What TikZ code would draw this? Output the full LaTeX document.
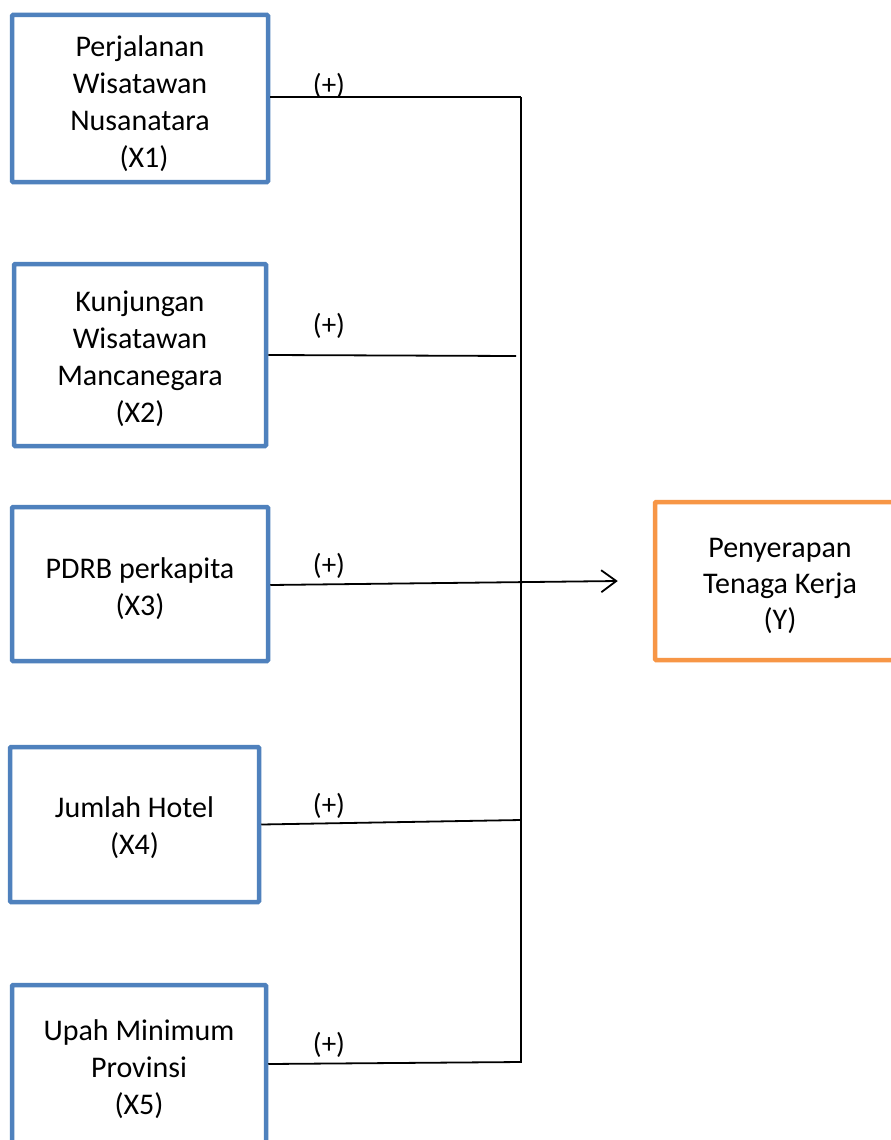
\documentclass[tikz,border=0pt]{standalone}
\usepackage{fontspec}
\setmainfont{Carlito}
\usetikzlibrary{arrows.meta}
\definecolor{boxblue}{HTML}{4F81BD}
\definecolor{boxorange}{HTML}{F79646}
\begin{document}
\begin{tikzpicture}[x=1pt,y=-1pt,
  varbox/.style={draw=boxblue,line width=4.5pt,rounded corners=1pt,inner sep=0pt},
  ybox/.style={draw=boxorange,line width=4.5pt,rounded corners=1pt,inner sep=0pt},
  boxtext/.style={align=center,font=\fontsize{30}{37}\selectfont,inner sep=0pt},
  conn/.style={draw=black,line width=1.8pt},
  sign/.style={font=\fontsize{29}{34}\selectfont,inner sep=0pt}]
\useasboundingbox (0,0) rectangle (891,1140);
\clip (0,0) rectangle (891,1140);
\fill[white] (0,0) rectangle (891,1140);
% boxes
\node[varbox,minimum width=256pt,minimum height=167pt] (x1) at (140,98.5) {};
\node[varbox,minimum width=252pt,minimum height=182pt] (x2) at (140,355) {};
\node[varbox,minimum width=256pt,minimum height=154pt] (x3) at (140,584) {};
\node[varbox,minimum width=249pt,minimum height=155pt] (x4) at (134.5,824.5) {};
\node[varbox,minimum width=254pt,minimum height=166pt] (x5) at (139,1068) {};
\node[ybox,minimum width=250pt,minimum height=158pt] (yy) at (780,581) {};
% texts
\node[boxtext] (t1) at ([yshift=-5pt]x1.center) {Perjalanan\\Wisatawan\\Nusanatara\\\hspace*{8pt}(X1)};
\node[boxtext] (t2) at ([yshift=-4pt]x2.center) {Kunjungan\\Wisatawan\\Mancanegara\\(X2)};
\node[boxtext] (t3) at ([yshift=-5pt]x3.center) {PDRB perkapita\\(X3)};
\node[boxtext] (t4) at ([yshift=-3.5pt]x4.center) {Jumlah Hotel\\(X4)};
\node[boxtext] (t5) at ([yshift=-1pt]x5.center) {Upah Minimum\\Provinsi\\(X5)};
\node[boxtext,font=\fontsize{30}{36}\selectfont] (ty) at ([yshift=-5pt]yy.center) {Penyerapan\\Tenaga Kerja\\(Y)};
% bus
\coordinate (bt) at (521,97);
\coordinate (bb) at (521,1063);
\coordinate (e2) at (516,356);
\coordinate (e4) at (521,820);
\coordinate (e5) at (521,1062);
\coordinate (tip) at ([xshift=-35pt]yy.west);
\draw[conn] (bt) -- (bb);
\draw[conn] (x1.east |- bt) -- (bt);
\draw[conn] (x2.east) -- (e2);
\draw[conn,-{Straight Barb[length=15pt,width=22pt,line width=1.8pt]}] ([yshift=-1pt]x3.east) -- (tip);
\draw[conn] (x4.east) -- (e4);
\draw[conn] ([yshift=4pt]x5.east) -- (e5);
% signs
\node[sign] (s1) at (329,86) {(+)};
\node[sign] (s2) at (329,326) {(+)};
\node[sign] (s3) at (329,566) {(+)};
\node[sign] (s4) at (329,806) {(+)};
\node[sign] (s5) at (329,1045) {(+)};
\end{tikzpicture}
\end{document}
